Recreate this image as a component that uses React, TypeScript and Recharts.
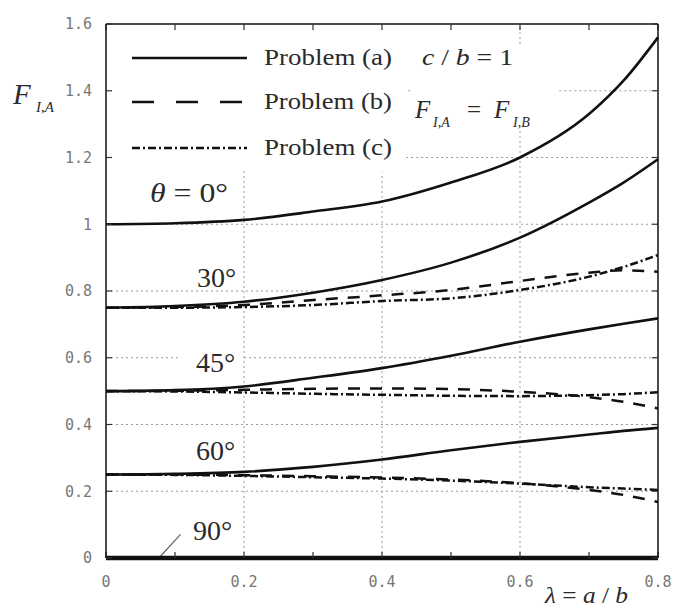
import React from 'react';
import {
  LineChart,
  Line,
  XAxis,
  YAxis,
  ReferenceLine,
  Customized,
} from 'recharts';

// Non-dimensional crack length λ = a/b
const lambda = [0, 0.1, 0.2, 0.3, 0.4, 0.5, 0.6, 0.7, 0.75, 0.8];

// F_I,A for each inclination angle θ; (a) solid, (b) dashed, (c) dash-dot
const theta0A = [1.0, 1.003, 1.013, 1.038, 1.068, 1.125, 1.2, 1.33, 1.43, 1.56];
const theta30A = [0.75, 0.755, 0.768, 0.795, 0.833, 0.885, 0.96, 1.065, 1.125, 1.195];
const theta30B = [0.75, 0.752, 0.758, 0.773, 0.787, 0.803, 0.83, 0.855, 0.862, 0.858];
const theta30C = [0.75, 0.75, 0.752, 0.758, 0.77, 0.778, 0.803, 0.843, 0.872, 0.908];
const theta45A = [0.5, 0.503, 0.514, 0.54, 0.569, 0.606, 0.648, 0.685, 0.702, 0.718];
const theta45B = [0.5, 0.501, 0.504, 0.507, 0.508, 0.506, 0.498, 0.482, 0.468, 0.448];
const theta45C = [0.5, 0.499, 0.496, 0.492, 0.489, 0.486, 0.485, 0.488, 0.491, 0.497];
const theta60A = [0.25, 0.252, 0.258, 0.273, 0.295, 0.323, 0.348, 0.37, 0.381, 0.39];
const theta60B = [0.25, 0.25, 0.248, 0.245, 0.241, 0.235, 0.224, 0.204, 0.189, 0.168];
const theta60C = [0.25, 0.249, 0.246, 0.242, 0.238, 0.232, 0.223, 0.212, 0.208, 0.204];
const theta90 = [0, 0, 0, 0, 0, 0, 0, 0, 0, 0];

const xTicks = [0, 0.2, 0.4, 0.6, 0.8];
const xMinorTicks = [0, 0.1, 0.2, 0.3, 0.4, 0.5, 0.6, 0.7, 0.8];
const yTicks = [0, 0.2, 0.4, 0.6, 0.8, 1, 1.2, 1.4, 1.6];

const legendItems = ['Problem (a)', 'Problem (b)', 'Problem (c)'];
const angleLabels = ['30°', '45°', '60°', '90°'];

const data = lambda.map((x, i) => ({
  x,
  a0: theta0A[i],
  a30: theta30A[i],
  b30: theta30B[i],
  c30: theta30C[i],
  a45: theta45A[i],
  b45: theta45B[i],
  c45: theta45C[i],
  a60: theta60A[i],
  b60: theta60B[i],
  c60: theta60C[i],
  z90: theta90[i],
}));

// Dotted grid, interrupted where the legend and labels sit:
// [fixed value, from, to] in axis units
const gridVertical: [number, number, number][] = [
  [0.2, 0, 1.16],
  [0.4, 0, 1.155],
  [0.6, 0, 1.28],
  [0.6, 1.54, 1.6],
];
const gridHorizontal: [number, number, number][] = [
  [0.2, 0, 0.8],
  [0.4, 0, 0.8],
  [0.6, 0, 0.109],
  [0.6, 0.2, 0.8],
  [0.8, 0, 0.8],
  [1, 0, 0.8],
  [1.2, 0.435, 0.8],
  [1.4, 0.438, 0.442],
  [1.4, 0.657, 0.8],
];

const INK = '#111';
const TEXT = '#2a2a2a';
const GRID = '#9a9a9a';
const SERIF = '"Liberation Serif", "Times New Roman", serif';
const MONO = '"DejaVu Sans Mono", monospace';
const DASHED = '12 10';
const DASH_DOT = '8 3 2 3';

function Annotations() {
  const legendY = [58, 102, 148];
  const dashes = [undefined, '22 22', DASH_DOT];
  const angleX = [197, 196, 196, 193];
  const angleY = [287, 372, 460, 540];
  return (
    <g fontFamily={SERIF} fill={TEXT}>
      {legendItems.map((label, i) => (
        <g key={label}>
          <line
            x1={132}
            x2={247}
            y1={legendY[i]}
            y2={legendY[i]}
            stroke={INK}
            strokeWidth={2.5}
            strokeDasharray={dashes[i]}
          />
          <text
            x={264}
            y={legendY[i] + 7}
            fontSize={23}
            textLength={128}
            lengthAdjust="spacingAndGlyphs"
          >
            {label}
          </text>
        </g>
      ))}

      <text x={422} y={65} fontSize={23} textLength={91} lengthAdjust="spacingAndGlyphs">
        <tspan fontStyle="italic">c</tspan>
        <tspan> / </tspan>
        <tspan fontStyle="italic">b</tspan>
        <tspan> = 1</tspan>
      </text>

      <text fontSize={25}>
        <tspan x={415} y={118} fontStyle="italic">F</tspan>
        <tspan x={433} y={127} fontSize={14} fontStyle="italic">I,A</tspan>
        <tspan x={467} y={118}>=</tspan>
        <tspan x={494} y={118} fontStyle="italic">F</tspan>
        <tspan x={513} y={127} fontSize={14} fontStyle="italic">I,B</tspan>
      </text>

      {/* axis titles */}
      <text fontSize={29}>
        <tspan x={13} y={104} fontStyle="italic">F</tspan>
        <tspan x={36} y={112} fontSize={15} fontStyle="italic">I,A</tspan>
      </text>
      <text x={545} y={603} fontSize={24} textLength={83} lengthAdjust="spacingAndGlyphs">
        <tspan fontStyle="italic">λ</tspan>
        <tspan> = </tspan>
        <tspan fontStyle="italic">a</tspan>
        <tspan> / </tspan>
        <tspan fontStyle="italic">b</tspan>
      </text>

      {/* angle labels */}
      <text x={150} y={202} fontSize={28} textLength={78} lengthAdjust="spacingAndGlyphs">
        <tspan fontStyle="italic">θ</tspan>
        <tspan> = 0°</tspan>
      </text>
      {angleLabels.map((label, i) => (
        <text key={label} x={angleX[i]} y={angleY[i]} fontSize={28}>
          {label}
        </text>
      ))}
    </g>
  );
}

// Frame axes carry only inward tick marks, no labels
const NoLabel = () => <g />;

const tickStyle = { fill: '#777', fontSize: 15, fontFamily: MONO };
const frame = { stroke: INK, strokeWidth: 1.5 };
const innerTick = { stroke: '#333', strokeWidth: 1.2 };

export default function App() {
  return (
    <div style={{ position: 'absolute', left: 0, top: 0, background: '#fff' }}>
      <LineChart
        width={673}
        height={610}
        data={data}
        margin={{ top: 24, right: 15, bottom: 22, left: 0 }}
      >
        {gridVertical.map(([x, y1, y2], i) => (
          <ReferenceLine
            key={`gv${i}`}
            segment={[
              { x, y: y1 },
              { x, y: y2 },
            ]}
            stroke={GRID}
            strokeWidth={1}
            strokeDasharray="2 3"
          />
        ))}
        {gridHorizontal.map(([y, x1, x2], i) => (
          <ReferenceLine
            key={`gh${i}`}
            segment={[
              { x: x1, y },
              { x: x2, y },
            ]}
            stroke={GRID}
            strokeWidth={1}
            strokeDasharray="2 3"
          />
        ))}

        <XAxis
          dataKey="x"
          type="number"
          domain={[0, 0.8]}
          ticks={xTicks}
          interval={0}
          height={30}
          tickLine={false}
          tickSize={6}
          tickMargin={12}
          axisLine={frame}
          tick={tickStyle}
        />
        <XAxis
          xAxisId="bottomTicks"
          dataKey="x"
          type="number"
          domain={[0, 0.8]}
          allowDataOverflow
          ticks={xMinorTicks}
          interval={0}
          mirror
          tick={NoLabel}
          tickSize={6}
          tickLine={innerTick}
          axisLine={false}
        />
        <XAxis
          xAxisId="top"
          orientation="top"
          dataKey="x"
          type="number"
          domain={[0, 0.8]}
          allowDataOverflow
          ticks={xMinorTicks}
          interval={0}
          mirror
          tick={NoLabel}
          tickSize={6}
          tickLine={innerTick}
          axisLine={frame}
        />
        <YAxis
          type="number"
          domain={[0, 1.6]}
          ticks={yTicks}
          interval={0}
          width={106}
          tickLine={false}
          tickSize={6}
          tickMargin={8}
          axisLine={frame}
          tick={tickStyle}
        />
        <YAxis
          yAxisId="leftTicks"
          type="number"
          domain={[0, 1.6]}
          allowDataOverflow
          ticks={yTicks}
          interval={0}
          mirror
          tick={NoLabel}
          tickSize={6}
          tickLine={innerTick}
          axisLine={false}
        />
        <YAxis
          yAxisId="right"
          orientation="right"
          type="number"
          domain={[0, 1.6]}
          allowDataOverflow
          ticks={yTicks}
          interval={0}
          mirror
          tick={NoLabel}
          tickSize={6}
          tickLine={innerTick}
          axisLine={frame}
        />

        <ReferenceLine
          segment={[
            { x: 0.078, y: 0.003 },
            { x: 0.108, y: 0.071 },
          ]}
          stroke="#666"
          strokeWidth={1.2}
          ifOverflow="visible"
        />

        {(['b30', 'b45', 'b60'] as const).map((k) => (
          <Line
            key={k}
            dataKey={k}
            type="monotone"
            stroke={INK}
            strokeWidth={2.5}
            strokeDasharray={DASHED}
            dot={false}
            isAnimationActive={false}
          />
        ))}
        {(['c30', 'c45', 'c60'] as const).map((k) => (
          <Line
            key={k}
            dataKey={k}
            type="monotone"
            stroke={INK}
            strokeWidth={2.5}
            strokeDasharray={DASH_DOT}
            dot={false}
            isAnimationActive={false}
          />
        ))}
        {(['a0', 'a30', 'a45', 'a60'] as const).map((k) => (
          <Line
            key={k}
            dataKey={k}
            type="monotone"
            stroke={INK}
            strokeWidth={2.6}
            dot={false}
            isAnimationActive={false}
          />
        ))}
        <Line
          dataKey="z90"
          type="monotone"
          stroke={INK}
          strokeWidth={4.5}
          dot={false}
          isAnimationActive={false}
        />

        <Customized component={Annotations} />
      </LineChart>
    </div>
  );
}
